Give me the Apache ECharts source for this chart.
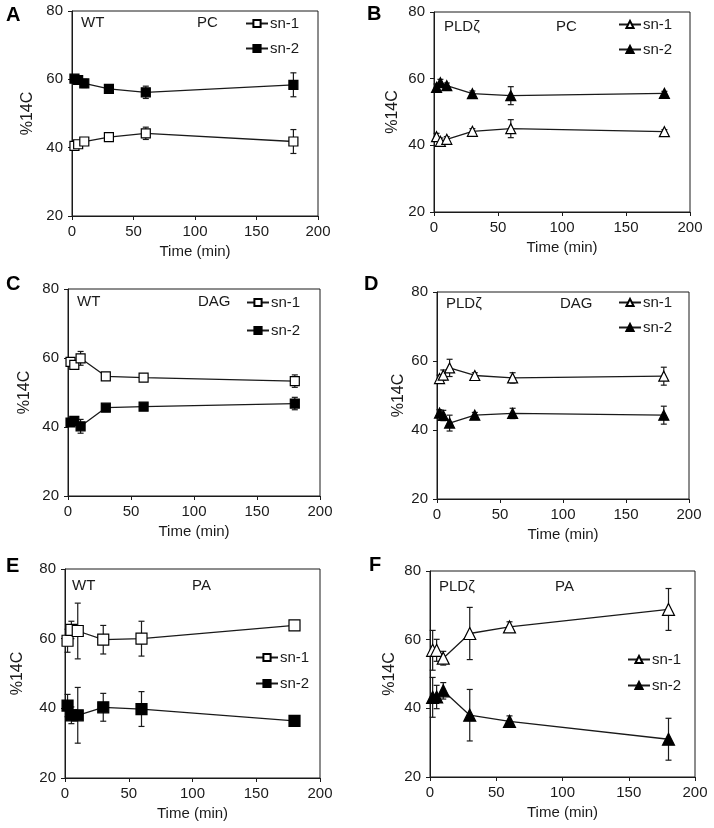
<!DOCTYPE html>
<html>
<head>
<meta charset="utf-8">
<script src="https://cdn.jsdelivr.net/npm/echarts@6/dist/echarts.min.js"></script>
<style>html,body{margin:0;padding:0;background:#fff}#c{width:714px;height:828px}</style>
</head>
<body>
<div id="c"></div>
<script>
// ---- data ----
const time = [2, 5, 10, 30, 60, 180];
const xTicks = [0, 50, 100, 150, 200];
const yTicks = [20, 40, 60, 80];

const A_sn1 = [40.5, 41.0, 41.8, 43.1, 44.2, 41.8];
const A_sn1_err = [0.5, 0.8, 1.0, 0.6, 1.8, 3.5];
const A_sn2 = [60.2, 59.8, 58.8, 57.2, 56.2, 58.4];
const A_sn2_err = [0.5, 0.8, 1.2, 0.6, 1.8, 3.5];

const B_sn1 = [42.6, 41.2, 41.8, 44.2, 45.0, 44.1];
const B_sn1_err = [1.0, 1.0, 0.8, 0.8, 2.7, 0.6];
const B_sn2 = [57.4, 58.8, 57.9, 55.5, 54.9, 55.6];
const B_sn2_err = [1.0, 1.0, 0.8, 0.8, 2.7, 0.6];

const C_sn1 = [58.9, 58.0, 59.9, 54.7, 54.3, 53.3];
const C_sn1_err = [1.0, 1.0, 2.0, 0.6, 0.6, 1.8];
const C_sn2 = [41.3, 41.8, 40.2, 45.6, 45.9, 46.8];
const C_sn2_err = [1.0, 1.0, 2.0, 0.6, 0.6, 1.8];

const D_sn1 = [54.9, 55.9, 58.0, 55.8, 55.1, 55.6];
const D_sn1_err = [1.0, 1.5, 2.5, 0.8, 1.5, 2.6];
const D_sn2 = [44.9, 44.2, 42.0, 44.3, 44.8, 44.3];
const D_sn2_err = [1.0, 1.5, 2.3, 0.8, 1.5, 2.6];

const E_sn1 = [59.4, 62.5, 62.2, 59.7, 60.0, 63.8];
const E_sn1_err = [3.3, 2.5, 8.0, 4.1, 5.0, 0.5];
const E_sn2 = [40.8, 38.0, 38.0, 40.3, 39.8, 36.4];
const E_sn2_err = [3.2, 2.4, 8.0, 4.0, 5.0, 0.5];

const F_sn1 = [56.9, 56.9, 54.6, 61.8, 63.7, 68.8];
const F_sn1_err = [5.8, 3.2, 2.0, 7.6, 1.5, 6.1];
const F_sn2 = [43.2, 43.3, 45.1, 38.0, 36.2, 31.0];
const F_sn2_err = [5.8, 3.4, 2.4, 7.5, 1.6, 6.1];

const panelLetters = ['A', 'B', 'C', 'D', 'E', 'F'];
const genotypes = ['WT', 'PLDζ', 'WT', 'PLDζ', 'WT', 'PLDζ'];
const lipids = ['PC', 'PC', 'DAG', 'DAG', 'PA', 'PA'];
const seriesNames = ['sn-1', 'sn-2'];
const xName = 'Time (min)';
const yName = '%14C';

// ---- layout / style ----
const FONT = 'Liberation Sans, Arial, sans-serif';
const FS = 15;
const panels = [
  {grid:[72,11,246,205], nameGap:36, letter:[6,5], geno:[81,15], lipid:[197,15], legend:[245,16], legendGap:10, sym:'rect', size:9, s:[A_sn1,A_sn2], e:[A_sn1_err,A_sn2_err]},
  {grid:[434,12,256,200], nameGap:33, letter:[367,4], geno:[444,19], lipid:[556,19], legend:[618,17], legendGap:10, sym:'triangle', size:10, s:[B_sn1,B_sn2], e:[B_sn1_err,B_sn2_err]},
  {grid:[68,289,252,207], nameGap:35, letter:[6,274], geno:[77,294], lipid:[198,294], legend:[246,295], legendGap:13, sym:'rect', size:9, s:[C_sn1,C_sn2], e:[C_sn1_err,C_sn2_err]},
  {grid:[437,292,252,207], nameGap:30, letter:[364,274], geno:[446,296], lipid:[560,296], legend:[618,295], legendGap:10, sym:'triangle', size:10, s:[D_sn1,D_sn2], e:[D_sn1_err,D_sn2_err]},
  {grid:[65,569,255,209], nameGap:39, letter:[6,556], geno:[72,578], lipid:[192,578], legend:[255,650], legendGap:11, sym:'rect', size:11, s:[E_sn1,E_sn2], e:[E_sn1_err,E_sn2_err]},
  {grid:[430,571,265,206], nameGap:32, letter:[369,555], geno:[439,579], lipid:[555,579], legend:[627,652], legendGap:11, sym:'triangle', size:12, s:[F_sn1,F_sn2], e:[F_sn1_err,F_sn2_err]}
];
const INK = '#1a1a1a';

const grids = [], xAxes = [], yAxes = [], series = [], legends = [], graphics = [];

panels.forEach((p, i) => {
  const [l, t, w, h] = p.grid;
  grids.push({left:l, top:t, width:w, height:h, show:true, borderColor:INK, borderWidth:1, backgroundColor:'transparent'});
  xAxes.push({
    gridIndex:i, type:'value', min:xTicks[0], max:xTicks[xTicks.length-1], interval:xTicks[1]-xTicks[0],
    splitLine:{show:false}, axisLine:{lineStyle:{color:INK, width:1}},
    axisTick:{show:true, length:4, lineStyle:{color:INK}},
    axisLabel:{color:INK, fontSize:FS, fontFamily:FONT, margin:8},
    name:xName, nameLocation:'middle', nameGap:28,
    nameTextStyle:{color:INK, fontSize:FS, fontFamily:FONT}
  });
  yAxes.push({
    gridIndex:i, type:'value', min:yTicks[0], max:yTicks[yTicks.length-1], interval:yTicks[1]-yTicks[0],
    splitLine:{show:false}, axisLine:{show:true, lineStyle:{color:INK, width:1}},
    axisTick:{show:true, length:4, lineStyle:{color:INK}},
    axisLabel:{color:INK, fontSize:FS, fontFamily:FONT, margin:9},
    name:yName, nameLocation:'middle', nameGap:p.nameGap,
    nameTextStyle:{color:INK, fontSize:16, fontFamily:FONT}
  });
  const names = [];
  [0, 1].forEach(k => {
    const vals = p.s[k], errs = p.e[k];
    const nm = panelLetters[i] + '|' + seriesNames[k];
    names.push(nm);
    // error bars
    series.push({
      type:'custom', xAxisIndex:i, yAxisIndex:i, z:1, silent:true,
      encode:{x:0, y:[1, 2]},
      data: time.map((tt, j) => [tt, vals[j] - errs[j], vals[j] + errs[j]]),
      renderItem: function (params, api) {
        const x = api.value(0);
        const p1 = api.coord([x, api.value(1)]);
        const p2 = api.coord([x, api.value(2)]);
        const cw = 3;
        const st = {stroke:INK, lineWidth:1.2};
        return {type:'group', children:[
          {type:'line', shape:{x1:p1[0], y1:p1[1], x2:p2[0], y2:p2[1]}, style:st},
          {type:'line', shape:{x1:p1[0]-cw, y1:p1[1], x2:p1[0]+cw, y2:p1[1]}, style:st},
          {type:'line', shape:{x1:p2[0]-cw, y1:p2[1], x2:p2[0]+cw, y2:p2[1]}, style:st}
        ]};
      }
    });
    series.push({
      type:'line', name:nm, xAxisIndex:i, yAxisIndex:i, z:3,
      data: time.map((tt, j) => [tt, vals[j]]),
      symbol:p.sym, symbolSize:p.size, showSymbol:true,
      lineStyle:{color:INK, width:1.3},
      itemStyle:{color: k === 0 ? '#ffffff' : '#000000', borderColor:'#000', borderWidth:1.2},
      emphasis:{disabled:true}, animation:false
    });
  });
  legends.push({
    data:names, orient:'vertical', left:p.legend[0], top:p.legend[1],
    itemWidth:22, itemHeight:9, itemGap:p.legendGap, padding:0,
    formatter: n => n.split('|')[1],
    textStyle:{color:INK, fontSize:FS, fontFamily:FONT, padding:[0,0,0,-3]},
    selectedMode:false
  });
  graphics.push({type:'text', left:p.letter[0], top:p.letter[1],
    style:{text:panelLetters[i], font:'bold 20px ' + FONT, fill:'#000'}});
  graphics.push({type:'text', left:p.geno[0], top:p.geno[1],
    style:{text:genotypes[i], font:FS + 'px ' + FONT, fill:INK}});
  graphics.push({type:'text', left:p.lipid[0], top:p.lipid[1],
    style:{text:lipids[i], font:FS + 'px ' + FONT, fill:INK, align:'center'}});
});

const chart = echarts.init(document.getElementById('c'), null, {renderer:'canvas'});
chart.setOption({
  animation:false,
  backgroundColor:'#fff',
  grid:grids, xAxis:xAxes, yAxis:yAxes, series:series, legend:legends,
  graphic:graphics
});
</script>
</body>
</html>
